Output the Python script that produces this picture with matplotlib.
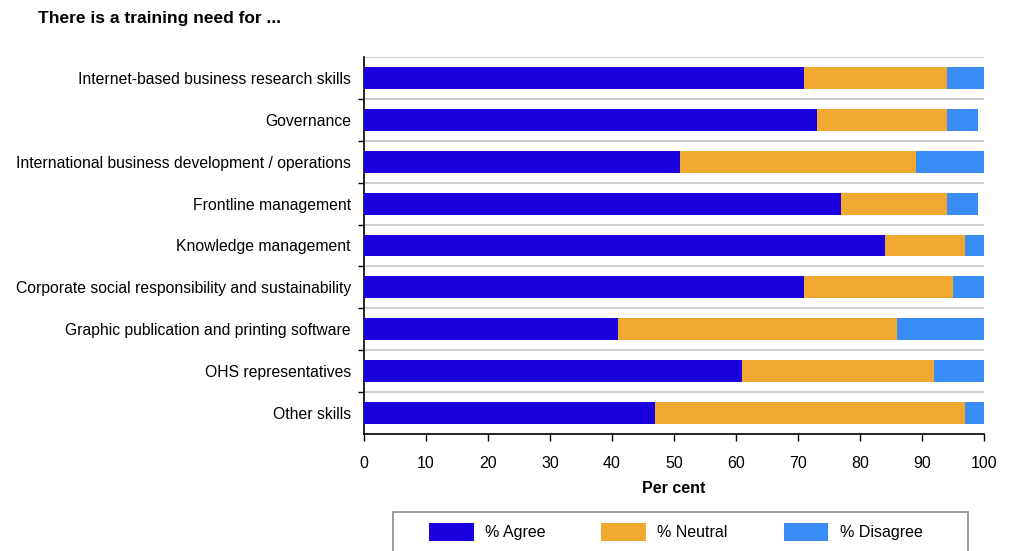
import matplotlib.pyplot as plt
from matplotlib.patches import Rectangle
import numpy as np

plt.rcParams['font.family'] = ['Liberation Sans', 'DejaVu Sans']

categories = [
    "Internet-based business research skills",
    "Governance",
    "International business development / operations",
    "Frontline management",
    "Knowledge management",
    "Corporate social responsibility and sustainability",
    "Graphic publication and printing software",
    "OHS representatives",
    "Other skills",
]
agree = [71, 73, 51, 77, 84, 71, 41, 61, 47]
neutral = [23, 21, 38, 17, 13, 24, 45, 31, 50]
disagree = [6, 5, 11, 5, 3, 5, 14, 8, 3]
series_names = ["% Agree", "% Neutral", "% Disagree"]
colors = ["#1a00dc", "#f0a830", "#3a8cf6"]
x_ticks = [0, 10, 20, 30, 40, 50, 60, 70, 80, 90, 100]

W, H = 1012, 551
fig = plt.figure(figsize=(W / 100, H / 100), dpi=100)
ax = fig.add_axes([364 / W, 1 - 434 / H, 620 / W, 377 / H])

y = np.arange(len(categories))
left = np.zeros(len(categories))
for vals, name, col in zip([agree, neutral, disagree], series_names, colors):
    ax.barh(y, vals, left=left, height=0.52, color=col, label=name,
            edgecolor='none', zorder=3)
    left = left + np.array(vals)

# separator lines between rows
bounds = np.arange(len(categories)) - 0.5
ax.hlines(bounds, 0, 100, colors="#cfcfcf", linewidth=1.4, zorder=1)

ax.set_xlim(0, 100)
ax.set_ylim(len(categories) - 0.5, -0.5)
ax.set_xticks(x_ticks)
ax.set_xticklabels([str(t) for t in x_ticks], fontsize=11.5)
ax.set_yticks(y)
ax.set_yticklabels(categories, fontsize=11.3)
ax.tick_params(axis='y', which='major', length=0, pad=9.5)
ax.set_yticks(bounds[1:], minor=True)
ax.tick_params(axis='y', which='minor', length=4, width=1, color='black')
ax.tick_params(axis='x', length=5, width=1, pad=10.5)

for s in ['top', 'right']:
    ax.spines[s].set_visible(False)
for s in ['left', 'bottom']:
    ax.spines[s].set_linewidth(1.2)
    ax.spines[s].set_color('black')

ax.set_xlabel("Per cent", fontsize=11.5, fontweight='bold', labelpad=7.5)

fig.text(38 / W, 1 - 19 / H, "There is a training need for ...",
         fontsize=12.5, fontweight='bold', va='center', ha='left')

# legend box, running off the bottom edge
fig.add_artist(Rectangle((393 / W, -0.05), 575 / W, 1 - 512 / H + 0.05,
                         transform=fig.transFigure, facecolor='white',
                         edgecolor='#8a8a8a', linewidth=1.2, zorder=0))
fig.legend(loc='center left', bbox_to_anchor=(429 / W, 1 - 532 / H),
           ncol=3, fontsize=11.5, frameon=False,
           handlelength=2.8, handleheight=1.3, borderpad=0, borderaxespad=0,
           handletextpad=0.7, columnspacing=3.5)

fig.savefig("out.png", dpi=100)
